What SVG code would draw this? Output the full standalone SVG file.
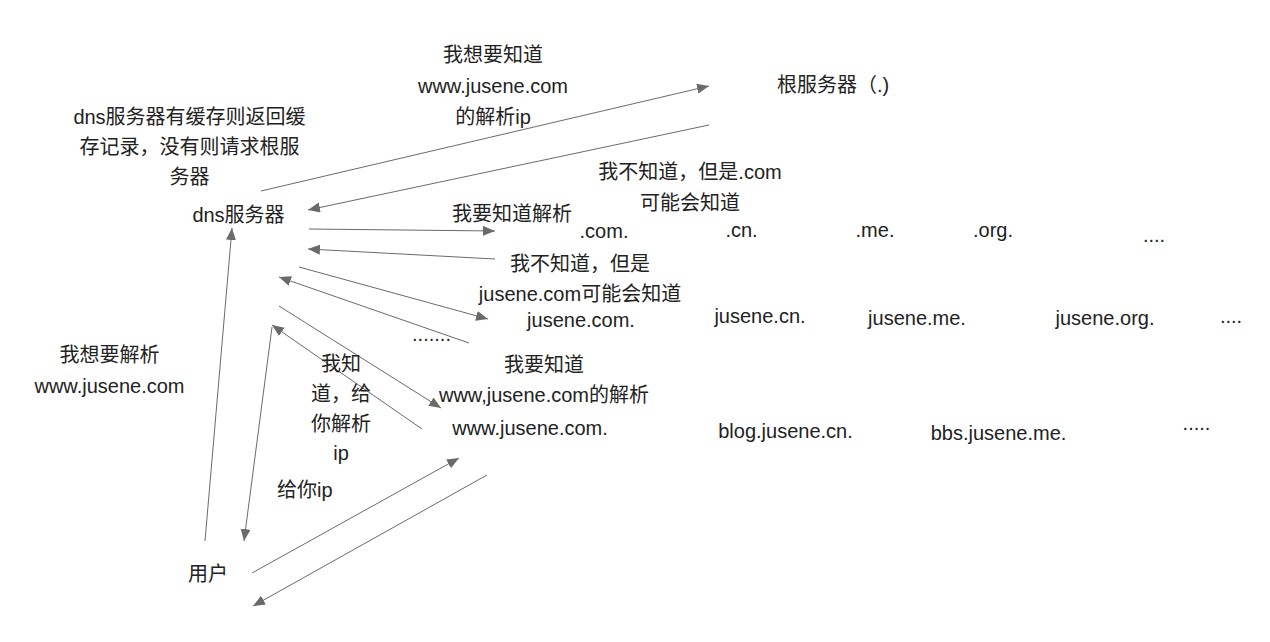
<svg xmlns="http://www.w3.org/2000/svg" width="1270" height="642" viewBox="0 0 1270 642">
<style>
text{font-family:"Liberation Sans","Noto Sans CJK SC",sans-serif;font-size:20px;fill:#222;text-anchor:middle}
.st{text-anchor:start}
.c line{stroke:#6a6a6a;stroke-width:1;fill:none;marker-end:url(#ah)}
</style>
<defs>
<marker id="ah" markerUnits="userSpaceOnUse" markerWidth="13" markerHeight="11" refX="12" refY="5" orient="auto">
<path d="M0,0 L12,5 L0,10 z" fill="#6a6a6a"/>
</marker>
</defs>
<rect width="1270" height="642" fill="#fff"/>
<g id="connectors" class="c">
<line x1="261" y1="191" x2="709" y2="86"/>
<line x1="709" y1="125" x2="308" y2="210"/>
<line x1="309" y1="229" x2="495" y2="231"/>
<line x1="495" y1="259" x2="308" y2="249"/>
<line x1="299" y1="267" x2="488" y2="319"/>
<line x1="469" y1="343" x2="279" y2="277"/>
<line x1="279" y1="306" x2="441" y2="408"/>
<line x1="422" y1="429" x2="272" y2="325"/>
<line x1="205" y1="541" x2="232" y2="228"/>
<line x1="272" y1="327" x2="244" y2="541"/>
<line x1="252" y1="573" x2="459" y2="458"/>
<line x1="487" y1="475" x2="253" y2="606"/>
</g>
<g id="note-cache"><text x="189.5" y="124">dns服务器有缓存则返回缓</text><text x="189.5" y="154">存记录，没有则请求根服</text><text x="189.5" y="184">务器</text></g>
<g id="dns"><text x="238.5" y="222">dns服务器</text></g>
<g id="label-ask-root"><text x="493" y="62">我想要知道</text><text x="493" y="93">www.jusene.com</text><text x="493" y="124">的解析ip</text></g>
<g id="root"><text class="st" x="777" y="92">根服务器（.)</text></g>
<g id="label-root-reply"><text x="690" y="179">我不知道，但是.com</text><text x="690" y="210">可能会知道</text></g>
<g id="label-ask-com"><text x="512" y="221">我要知道解析</text></g>
<g id="com"><text x="604" y="238">.com.</text></g>
<g id="cn"><text x="741.5" y="237">.cn.</text></g>
<g id="me"><text x="875" y="237">.me.</text></g>
<g id="org"><text x="993" y="237">.org.</text></g>
<g id="tld-more"><text x="1154" y="242">....</text></g>
<g id="label-com-reply"><text x="580" y="271">我不知道，但是</text><text x="580" y="301">jusene.com可能会知道</text></g>
<g id="jusene-com"><text x="581" y="327">jusene.com.</text></g>
<g id="jusene-cn"><text x="760" y="323">jusene.cn.</text></g>
<g id="jusene-me"><text x="917" y="325">jusene.me.</text></g>
<g id="jusene-org"><text x="1105" y="325">jusene.org.</text></g>
<g id="second-more"><text x="1231" y="323">....</text></g>
<g id="dots"><text x="431.5" y="341">.......</text></g>
<g id="label-ask-www"><text x="544" y="372">我要知道</text><text x="544" y="402">www,jusene.com的解析</text></g>
<g id="www"><text x="530" y="435">www.jusene.com.</text></g>
<g id="blog"><text x="785.5" y="438">blog.jusene.cn.</text></g>
<g id="bbs"><text x="998.5" y="440">bbs.jusene.me.</text></g>
<g id="third-more"><text x="1196.5" y="430">.....</text></g>
<g id="label-www-reply"><text x="341" y="371">我知</text><text x="341" y="401">道，给</text><text x="341" y="431">你解析</text><text x="341" y="460">ip</text></g>
<g id="label-give-ip"><text class="st" x="277" y="497">给你ip</text></g>
<g id="label-user-ask"><text x="109.5" y="362">我想要解析</text><text x="109.5" y="393">www.jusene.com</text></g>
<g id="user"><text x="208" y="581">用户</text></g>
</svg>
